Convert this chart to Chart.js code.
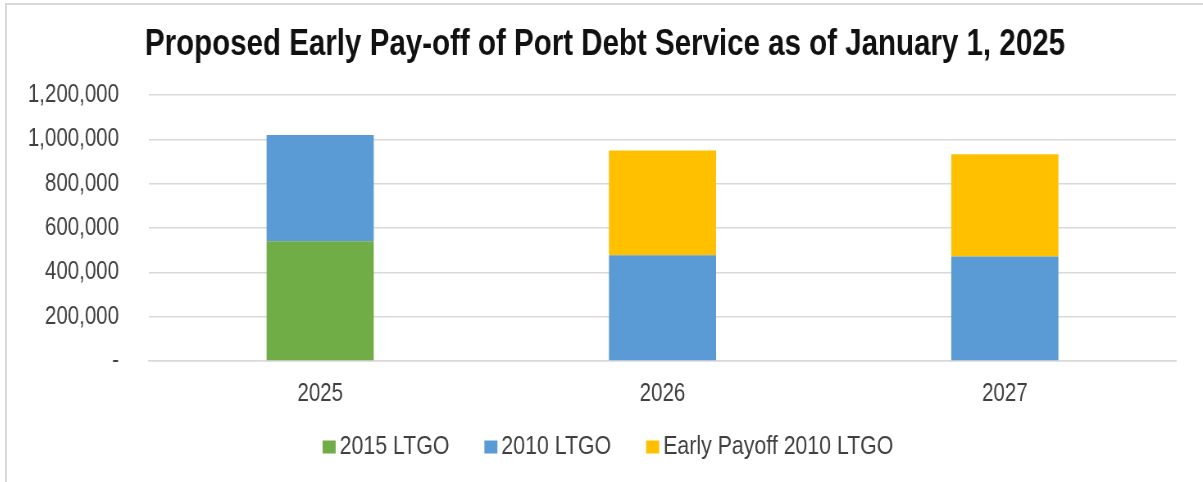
<!DOCTYPE html>
<html>
<head>
<meta charset="utf-8">
<title>Port Debt Service</title>
<script src="https://cdn.jsdelivr.net/npm/chart.js@4.4.1/dist/chart.umd.min.js"></script>
<style>
  body { margin: 0; background: #fff; }
  .frame {
    position: absolute;
    left: 5px;
    top: 3px;
    border-left: 2px solid #d9d9d9;
    border-top: 2px solid #d9d9d9;
  }
  canvas { display: block; }
</style>
</head>
<body>
<div class="frame">
  <!-- drawn wide and shown at 82% width so the Arial-style text comes out narrow -->
  <canvas id="debtChart" width="1459" height="477" style="width:1196px;height:477px"></canvas>
</div>
<script>
const years = ['2025', '2026', '2027']
const ltgo2015 = [541000, 0, 0]
const ltgo2010 = [479000, 477000, 472000]
const earlyPayoff2010 = [0, 473000, 461000]
const yMax = 1200000
const yStep = 200000

const sx = 1459 / 1196 // canvas px per screen px, horizontally
const font = "'Liberation Sans', Arial, sans-serif"

// legend under the axis: small square, tight gap, then the label
const bottomLegend = {
  id: 'bottomLegend',
  afterDraw(chart) {
    const ctx = chart.ctx
    const items = chart.data.datasets
    const box = 13
    const gap = 4 * sx
    const space = 35 * sx
    ctx.save()
    ctx.font = '26px ' + font
    ctx.textBaseline = 'middle'
    const widths = items.map(ds => box * sx + gap + ctx.measureText(ds.label).width)
    const total = widths.reduce((a, b) => a + b, 0) + space * (items.length - 1)
    let x = (chart.width - total) / 2 + 3 * sx
    const y = chart.height - 35
    items.forEach((ds, i) => {
      ctx.fillStyle = ds.backgroundColor
      ctx.fillRect(x, y - box / 2, box * sx, box)
      ctx.fillStyle = '#404040'
      ctx.fillText(ds.label, x + box * sx + gap, y)
      x += widths[i] + space
    })
    ctx.restore()
  }
}

const ctx = document.getElementById('debtChart')
new Chart(ctx, {
  type: 'bar',
  data: {
    labels: years,
    datasets: [{
      label: '2015 LTGO',
      data: ltgo2015,
      backgroundColor: '#70AD47'
    }, {
      label: '2010 LTGO',
      data: ltgo2010,
      backgroundColor: '#5B9BD5'
    }, {
      label: 'Early Payoff 2010 LTGO',
      data: earlyPayoff2010,
      backgroundColor: '#FFC000'
    }]
  },
  options: {
    responsive: false,
    animation: false,
    categoryPercentage: 1,
    barPercentage: 0.313,
    layout: {
      padding: { left: 0, right: 0, top: 0, bottom: 75 }
    },
    plugins: {
      legend: { display: false },
      tooltip: { enabled: false },
      title: {
        display: true,
        text: 'Proposed Early Pay-off of Port Debt Service as of January 1, 2025',
        color: '#111',
        font: { family: font, size: 36, weight: 'bold' },
        padding: { top: 18, bottom: 29 }
      }
    },
    scales: {
      x: {
        stacked: true,
        afterFit(scale) {
          scale.height = 46
        },
        grid: { display: false },
        border: { color: '#d9d9d9', width: 1.5 },
        ticks: {
          color: '#404040',
          padding: 10,
          maxRotation: 0,
          font: { family: font, size: 25 }
        }
      },
      y: {
        stacked: true,
        min: 0,
        max: yMax,
        afterFit(scale) {
          scale.width = 142 * sx
        },
        border: { display: false },
        grid: { color: '#d9d9d9', lineWidth: 1.5, drawTicks: false },
        ticks: {
          stepSize: yStep,
          color: '#404040',
          padding: 30 * sx,
          font: { family: font, size: 25 },
          callback: value => value === 0 ? '-' : value.toLocaleString('en-US')
        }
      },
      // empty strip on the right of the plot
      gutter: {
        type: 'linear',
        position: 'right',
        afterFit(scale) {
          scale.width = 27 * sx
        },
        grid: { display: false },
        border: { display: false },
        ticks: { display: false }
      }
    }
  },
  plugins: [bottomLegend]
})
</script>
</body>
</html>
